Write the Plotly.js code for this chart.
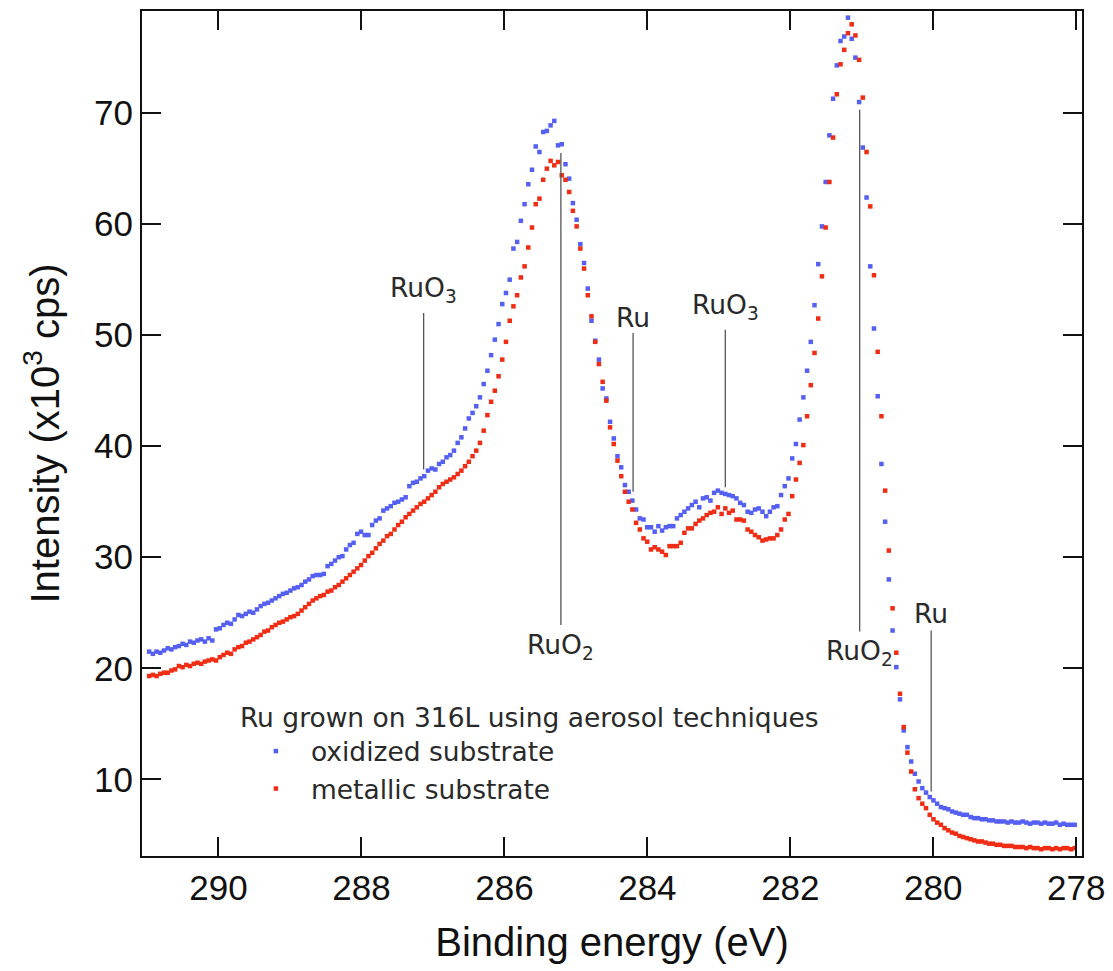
<!DOCTYPE html>
<html>
<head>
<meta charset="utf-8">
<script src="https://cdn.plot.ly/plotly-3.0.1.min.js"></script>
<style>
  html, body { margin: 0; padding: 0; background: #ffffff; }
  #chart { width: 1113px; height: 971px; }
</style>
</head>
<body>
<div id="chart"></div>
<script>
// Binding-energy scan: first point and step (eV), uniform acquisition grid
const energyStart = 290.97;
const energyStep = -0.052;

// Intensity (x10^3 cps), Ru grown on oxidized 316L substrate
const oxidized = [
  21.5, 21.3, 21.5, 21.4, 21.6, 21.8, 21.7, 21.9, 22.0, 22.2,
  22.1, 22.4, 22.3, 22.5, 22.6, 22.4, 22.7, 22.5, 23.5, 23.6,
  23.9, 24.1, 24.0, 24.4, 24.8, 24.7, 24.9, 25.1, 25.0, 25.3,
  25.6, 25.8, 25.9, 26.1, 26.3, 26.5, 26.7, 26.8, 27.0, 27.2,
  27.3, 27.5, 27.8, 28.0, 28.3, 28.4, 28.4, 28.5, 29.2, 29.4,
  29.7, 30.0, 30.1, 30.7, 31.1, 31.3, 32.1, 32.3, 32.0, 32.0,
  32.9, 33.3, 33.5, 34.2, 34.4, 34.6, 34.9, 35.0, 35.2, 35.4,
  36.4, 36.7, 36.8, 37.1, 37.3, 37.8, 38.0, 37.9, 38.4, 38.6,
  39.0, 39.2, 39.6, 40.3, 40.8, 41.6, 42.5, 43.0, 43.6, 44.4,
  45.6, 46.8, 48.2, 49.6, 51.0, 52.8, 53.8, 55.0, 57.8, 58.4,
  60.3, 61.8, 63.6, 64.9, 67.0, 66.5, 68.3, 68.4, 68.9, 69.3,
  67.1, 67.2, 65.4, 64.1, 61.9, 60.4, 58.2, 56.5, 54.2, 51.3,
  49.5, 47.8, 45.2, 44.3, 42.2, 40.7, 39.1, 38.1, 36.5, 35.9,
  35.1, 34.3, 33.5, 33.4, 32.7, 32.7, 32.3, 32.8, 32.4, 32.7,
  32.8, 32.8, 33.5, 33.8, 34.1, 34.4, 34.7, 35.0, 34.5, 35.3,
  35.4, 35.1, 35.8, 36.0, 35.8, 35.7, 35.6, 35.5, 35.3, 34.9,
  34.7, 34.1, 34.0, 34.3, 34.4, 34.1, 33.7, 34.1, 34.5, 34.6,
  35.6, 36.4, 37.1, 38.9, 40.2, 42.4, 44.4, 46.8, 49.4, 52.7,
  56.4, 59.8, 63.8, 68.0, 71.3, 74.3, 76.5, 76.9, 78.6, 76.7,
  75.0, 71.0, 66.9, 62.4, 56.2, 50.6, 44.5, 38.4, 33.2, 28.0,
  23.4, 20.1, 17.2, 14.4, 12.9, 11.6, 10.5, 9.8, 9.2, 8.8,
  8.4, 8.1, 7.8, 7.5, 7.4, 7.3, 7.1, 7.0, 6.9, 6.8,
  6.8, 6.6, 6.5, 6.5, 6.4, 6.4, 6.3, 6.3, 6.2, 6.2,
  6.2, 6.1, 6.2, 6.1, 6.1, 6.2, 6.1, 6.0, 6.1, 6.1,
  6.0, 6.1, 6.0, 6.0, 6.1, 5.9, 6.0, 5.9, 5.9, 5.9
];

// Intensity (x10^3 cps), Ru grown on metallic 316L substrate
const metallic = [
  19.3, 19.4, 19.3, 19.5, 19.6, 19.6, 19.8, 19.9, 20.2, 20.1,
  20.3, 20.2, 20.4, 20.5, 20.4, 20.6, 20.7, 20.8, 20.7, 21.0,
  21.2, 21.4, 21.3, 21.7, 21.9, 22.0, 22.3, 22.4, 22.6, 22.8,
  23.0, 23.3, 23.4, 23.7, 23.9, 24.1, 24.2, 24.4, 24.6, 24.7,
  24.9, 25.2, 25.5, 25.8, 26.1, 26.3, 26.5, 26.6, 26.9, 27.0,
  27.3, 27.5, 27.8, 28.1, 28.4, 28.7, 29.0, 29.3, 29.7, 30.1,
  30.4, 30.8, 31.2, 31.5, 31.9, 32.1, 32.5, 32.9, 33.2, 33.6,
  33.9, 34.2, 34.5, 34.8, 35.0, 35.3, 35.6, 35.9, 36.3, 36.6,
  36.8, 37.0, 37.2, 37.5, 37.8, 38.2, 38.6, 39.1, 39.6, 40.3,
  41.4, 42.8, 44.0, 45.0, 46.3, 47.8, 49.4, 51.3, 52.6, 53.6,
  55.2, 56.2, 57.9, 59.7, 61.8, 62.3, 64.0, 65.0, 65.7, 65.3,
  65.6, 64.4, 64.0, 62.9, 61.2, 59.8, 57.8, 56.0, 53.6, 51.7,
  49.4, 47.4, 45.8, 44.1, 41.7, 40.2, 38.7, 37.3, 35.9, 35.0,
  34.3, 33.1, 32.5, 31.7, 31.4, 30.7, 30.9, 30.7, 30.5, 30.2,
  31.0, 31.0, 31.0, 31.3, 32.2, 32.6, 32.6, 33.0, 33.3, 33.5,
  33.8, 34.0, 34.1, 34.5, 33.9, 34.4, 34.0, 34.2, 33.4, 33.4,
  33.3, 32.5, 32.3, 32.0, 31.8, 31.5, 31.6, 31.7, 31.7, 32.0,
  32.5, 33.4, 33.9, 35.5, 37.0, 38.5, 40.1, 42.7, 45.5, 48.4,
  51.5, 55.3, 59.7, 63.8, 67.8, 71.7, 74.4, 75.7, 77.2, 78.0,
  77.0, 74.8, 71.4, 66.5, 61.6, 55.4, 48.5, 42.7, 36.0, 30.6,
  25.4, 21.4, 17.7, 14.7, 12.4, 10.7, 9.1, 8.3, 7.8, 7.4,
  6.8, 6.4, 6.1, 5.9, 5.6, 5.4, 5.2, 5.1, 4.9, 4.8,
  4.7, 4.6, 4.5, 4.4, 4.4, 4.3, 4.2, 4.2, 4.1, 4.1,
  4.0, 4.0, 4.0, 3.9, 3.9, 3.9, 3.8, 3.9, 3.8, 3.8,
  3.7, 3.8, 3.8, 3.7, 3.8, 3.7, 3.8, 3.8, 3.7, 3.8
];

const seriesNames = ["oxidized substrate", "metallic substrate"];
const legendTitle = "Ru grown on 316L using aerosol techniques";
const xTitle = "Binding energy (eV)";
const yTitle = "Intensity (x10<sup>3</sup> cps)";

// Peak labels (chemical states)
const peakLabels = ["RuO<sub>3</sub>", "RuO<sub>2</sub>", "Ru", "RuO<sub>3</sub>", "RuO<sub>2</sub>", "Ru"];

// label placement: [x eV, label y, line y from, line y to]
const labelPlacement = [
  [287.13, 54.1, 52.0, 37.9],
  [285.21, 22.0, 66.4, 23.9],
  [284.20, 51.6, 50.2, 35.9],
  [282.91, 52.6, 50.5, 36.3],
  [281.03, 21.4, 70.3, 23.3],
  [280.03, 24.9, 23.4, 8.9]
];

const blue = "#5560f2";
const red = "#ef2c14";
const labelFont = {family: "DejaVu Sans, Verdana, sans-serif", size: 26.5, color: "#2a2a2a"};

const traces = [
  {
    type: "scatter", mode: "markers", name: seriesNames[0],
    x0: energyStart, dx: energyStep, y: oxidized,
    marker: {symbol: "square", size: 4.5, color: blue}
  },
  {
    type: "scatter", mode: "markers", name: seriesNames[1],
    x0: energyStart, dx: energyStep, y: metallic,
    marker: {symbol: "square", size: 4.5, color: red}
  }
];

const annotations = peakLabels.map((t, i) => ({
  x: labelPlacement[i][0], y: labelPlacement[i][1], xref: "x", yref: "y",
  text: t, showarrow: false, xanchor: "center", yanchor: "middle",
  font: labelFont
}));

const shapes = labelPlacement.map(p => ({
  type: "line", xref: "x", yref: "y",
  x0: p[0], x1: p[0], y0: p[2], y1: p[3],
  line: {color: "#555555", width: 1.3}
}));

const tickFont = {family: "Liberation Sans, Arial, sans-serif", size: 35, color: "#111"};
const titleFont = {family: "Liberation Sans, Arial, sans-serif", size: 40, color: "#111"};

const layout = {
  width: 1113, height: 971,
  margin: {l: 142, r: 31, t: 11, b: 115},
  paper_bgcolor: "#ffffff", plot_bgcolor: "#ffffff",
  showlegend: true,
  legend: {
    x: 0.102, y: 0.193, xanchor: "left", yanchor: "top",
    bgcolor: "rgba(0,0,0,0)",
    font: labelFont,
    itemwidth: 60, indentation: 3,
    title: {text: legendTitle, side: "top", font: labelFont}
  },
  xaxis: {
    range: [291.07, 277.92], autorange: false,
    tick0: 278, dtick: 2, ticks: "inside", ticklen: 19, tickwidth: 2, tickcolor: "#111",
    showline: true, linewidth: 2, linecolor: "#111", mirror: "ticks",
    showgrid: false, zeroline: false,
    tickfont: tickFont,
    title: {text: xTitle, font: titleFont, standoff: 22}
  },
  yaxis: {
    range: [3.09, 79.2], autorange: false,
    tick0: 0, dtick: 10, ticks: "inside", ticklen: 19, tickwidth: 2, tickcolor: "#111",
    showline: true, linewidth: 2, linecolor: "#111", mirror: "ticks",
    showgrid: false, zeroline: false,
    tickfont: tickFont,
    title: {text: yTitle, font: titleFont, standoff: 22}
  },
  annotations: annotations,
  shapes: shapes
};

Plotly.newPlot("chart", traces, layout, {displayModeBar: false, staticPlot: true});
</script>
</body>
</html>
